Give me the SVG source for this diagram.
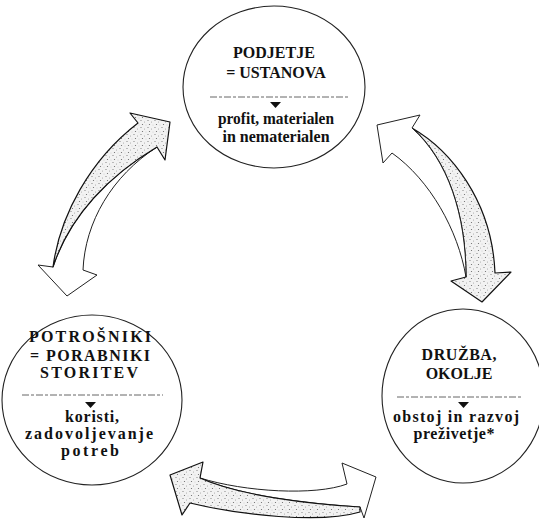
<svg xmlns="http://www.w3.org/2000/svg" width="539" height="521" viewBox="0 0 539 521">
<style>
.circ{fill:none;stroke:#222;stroke-width:1.1}
.sep{stroke:#555;stroke-width:0.9;stroke-dasharray:7 2 3 2}
.tri{fill:#111}
.t{font-family:"Liberation Serif","Times New Roman",serif;font-weight:bold;font-size:16px;fill:#111;text-anchor:middle}
.shade{fill:url(#dots);stroke:#111;stroke-width:1.2;stroke-linejoin:round}
.white{fill:#fff;stroke:#222;stroke-width:1;stroke-linejoin:round}
</style>
<defs>
<pattern id="dots" width="7" height="7" patternUnits="userSpaceOnUse">
<rect width="7" height="7" fill="#f2f2f2"/>
<circle cx="1" cy="1.5" r="0.6" fill="#777"/>
<circle cx="4.5" cy="3" r="0.5" fill="#999"/>
<circle cx="2.5" cy="5.5" r="0.6" fill="#666"/>
<circle cx="6" cy="6" r="0.4" fill="#aaa"/>
</pattern>
</defs>
<rect width="539" height="521" fill="#fff"/>

<g id="connectors">
<g id="arrows-left">
<path class="white" d="M53 267 L38 265 L67 296 L97 275 L83 270 C85 222 112 176 157 147 C110 175 70 215 53 267 Z"/>
<path class="shade" d="M53 267 C60 215 90 160 138 123 L130 113 L170 122 L165 160 L157 147 C110 175 70 215 53 267 Z"/>
</g>
<g id="arrows-right">
<path class="shade" d="M412 128 C450 150 492 200 495 273 L511 272 L482 302 L451 281 L466 277 C466 215 448 160 412 128 Z"/>
<path class="white" d="M412 128 L420 115 L377 125 L383 163 L392 153 C430 180 458 230 466 277 C466 215 448 160 412 128 Z"/>
</g>
<g id="arrows-bottom">
<path class="white" d="M347 484 L342 463 L376 477 L364 518 L360 507 C310 504 240 496 200 478 C245 492 315 496 347 484 Z"/>
<path class="shade" d="M200 478 L203 462 L170 475 L182 515 L190 503 C240 515 320 524 360 512 L360 507 C310 504 240 496 200 478 Z"/>
</g>
</g>

<g id="node-podjetje">
<ellipse class="circ" cx="274" cy="87" rx="91" ry="81"/>
<text class="t" x="274" y="58">PODJETJE</text>
<text class="t" x="276" y="78">= USTANOVA</text>
<line class="sep" x1="210" y1="97" x2="350" y2="97"/>
<path class="tri" d="M270 102 L281 102 L275.5 108 Z"/>
<text class="t" x="276" y="124" textLength="116" lengthAdjust="spacingAndGlyphs">profit, materialen</text>
<text class="t" x="276" y="142">in nematerialen</text>
</g>

<g id="node-potrosniki">
<ellipse class="circ" cx="92" cy="400" rx="90" ry="85"/>
<text class="t" x="90" y="342" textLength="122" lengthAdjust="spacing">POTROŠNIKI</text>
<text class="t" x="90" y="361" textLength="120" lengthAdjust="spacing">= PORABNIKI</text>
<text class="t" x="89" y="378" textLength="98" lengthAdjust="spacing">STORITEV</text>
<line class="sep" x1="22" y1="395" x2="163" y2="395"/>
<path class="tri" d="M85 402 L96 402 L90.5 408 Z"/>
<text class="t" x="92" y="422" textLength="54" lengthAdjust="spacing">koristi,</text>
<text class="t" x="89" y="439" textLength="128" lengthAdjust="spacing">zadovoljevanje</text>
<text class="t" x="90" y="456" textLength="58" lengthAdjust="spacing">potreb</text>
</g>

<g id="node-druzba">
<ellipse class="circ" cx="463" cy="396" rx="81" ry="87"/>
<text class="t" x="459" y="360" textLength="75" lengthAdjust="spacing">DRUŽBA,</text>
<text class="t" x="459" y="379">OKOLJE</text>
<line class="sep" x1="397" y1="397" x2="522" y2="397"/>
<path class="tri" d="M458 402 L469 402 L463.5 408 Z"/>
<text class="t" x="456" y="422" textLength="126" lengthAdjust="spacing">obstoj in razvoj</text>
<text class="t" x="454" y="439" textLength="81" lengthAdjust="spacing">preživetje*</text>
</g>
</svg>
